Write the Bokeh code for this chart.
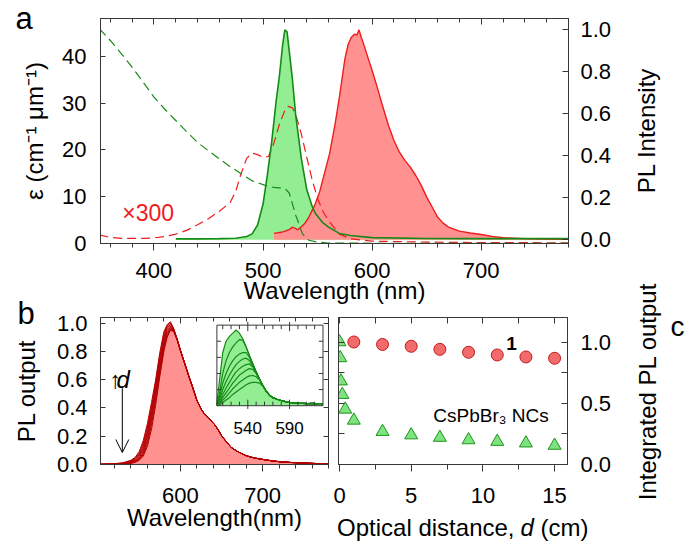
import math
from bokeh.plotting import figure
from bokeh.models import (Range1d, LinearAxis, FixedTicker, Label, Arrow, OpenHead,
                          PrintfTickFormatter)
from bokeh.layouts import column, row
from bokeh.embed import file_html
from bokeh.resources import INLINE
from bokeh.core.properties import value

FONT = "Liberation Sans"
AXC = "#383838"
RED = "#ee1c1c"
GREEN = "#168a16"
DARK_RED = "#b20000"
RED_FILL = "#ff9191"
GREEN_FILL = "#93ee93"

# ---------------- panel a: absorption (left axis) ----------------
a_abs_nc_x = [350, 360, 370, 380, 390, 400, 410, 420, 430, 440, 450, 460, 470, 480, 490, 500,
              505, 510, 515, 520, 524, 527, 530, 532, 536, 542, 550, 560, 600, 700, 780]
a_abs_nc_y = [45.9, 43.4, 40.6, 37.7, 34.5, 31.3, 28.7, 26.3, 23.9, 21.6, 19.8, 18.1, 16.4, 14.9,
              13.4, 12.6, 12.2, 12.0, 11.9, 11.8, 10.8, 8.4, 6.0, 4.8, 2.1, 0.7, 0.3, 0.1, 0.05,
              0.05, 0.05]
a_abs_1_x = [350, 360, 370, 380, 390, 400, 410, 420, 430, 440, 450, 460, 470, 475, 480, 485, 490,
             495, 500, 505, 510, 515, 520, 523, 527, 530, 535, 540, 545, 550, 555, 560, 570, 580,
             600, 650, 700, 780]
a_abs_1_y = [1.8, 1.3, 1.1, 1.1, 1.1, 1.2, 1.5, 2.0, 2.8, 4.0, 5.3, 6.9, 8.8, 11.2, 15.0, 18.2,
             19.3, 19.0, 18.4, 18.6, 21.5, 25.5, 28.5, 29.3, 29.0, 27.5, 23.5, 18.5, 13.6, 9.6,
             6.8, 4.9, 2.0, 1.0, 0.5, 0.3, 0.2, 0.15]
# ---------------- panel a: PL (right axis) ----------------
a_pl_nc_x = [420, 440, 460, 475, 485, 490, 495, 500, 504, 508, 512, 515, 518, 520, 522, 524, 527,
             530, 535, 540, 545, 548, 555, 560, 570, 580, 600, 650, 700, 780]
a_pl_nc_y = [0.004, 0.004, 0.005, 0.007, 0.015, 0.028, 0.07, 0.17, 0.31, 0.47, 0.66, 0.78, 0.93,
             1.0, 0.99, 0.90, 0.76, 0.59, 0.39, 0.24, 0.16, 0.125, 0.08, 0.06, 0.03, 0.02, 0.01,
             0.006, 0.005, 0.005]
a_pl_1_x = [510, 518, 524, 527, 532, 538, 542, 547, 552, 556, 561, 566, 570, 575, 578, 581, 584,
            586, 588, 590, 593, 596, 600, 605, 610, 615, 620, 625, 630, 635, 640, 645, 650, 655,
            660, 665, 670, 680, 690, 700, 710, 720, 740, 760, 780]
a_pl_1_y = [0.03, 0.037, 0.048, 0.06, 0.048, 0.076, 0.108, 0.16, 0.23, 0.31, 0.41, 0.55, 0.68,
            0.86, 0.93, 0.965, 0.98, 0.975, 1.0, 0.965, 0.92, 0.87, 0.806, 0.72, 0.63, 0.544,
            0.473, 0.417, 0.378, 0.346, 0.306, 0.259, 0.203, 0.156, 0.108, 0.079, 0.06, 0.041,
            0.032, 0.025, 0.016, 0.01, 0.005, 0.003, 0.002]
a_x_major = [400, 500, 600, 700]
a_x_minor = [360, 380, 420, 440, 460, 480, 520, 540, 560, 580, 620, 640, 660, 680, 720, 740, 760, 780]
a_left_ticks = [0, 10, 20, 30, 40]
a_right_ticks = [0.0, 0.2, 0.4, 0.6, 0.8, 1.0]

# ---------------- panel b: PL output of 1 at increasing d ----------------
b_edge_x = [503, 520, 530, 540, 545, 550, 555, 560, 565, 570, 575, 580, 584, 588, 592, 596, 600, 605]
b_curves = [
    [0.003, 0.006, 0.012, 0.030, 0.050, 0.090, 0.170, 0.290, 0.440, 0.600, 0.790, 0.940, 0.990, 1.010, 0.960, 0.890, 0.810, 0.720],
    [0.002, 0.005, 0.010, 0.025, 0.043, 0.078, 0.150, 0.265, 0.415, 0.580, 0.765, 0.920, 0.980, 1.000, 0.958, 0.889, 0.810, 0.720],
    [0.002, 0.004, 0.008, 0.021, 0.036, 0.067, 0.130, 0.240, 0.390, 0.555, 0.740, 0.900, 0.970, 0.990, 0.955, 0.888, 0.810, 0.720],
    [0.001, 0.003, 0.007, 0.018, 0.030, 0.057, 0.112, 0.218, 0.365, 0.530, 0.715, 0.880, 0.955, 0.980, 0.952, 0.887, 0.810, 0.720],
    [0.001, 0.002, 0.005, 0.014, 0.025, 0.048, 0.096, 0.195, 0.340, 0.505, 0.690, 0.860, 0.940, 0.970, 0.950, 0.886, 0.810, 0.720],
    [0.001, 0.002, 0.004, 0.012, 0.021, 0.040, 0.082, 0.172, 0.315, 0.480, 0.665, 0.840, 0.925, 0.962, 0.947, 0.885, 0.808, 0.720],
    [0.000, 0.001, 0.003, 0.010, 0.018, 0.034, 0.070, 0.150, 0.285, 0.450, 0.640, 0.820, 0.910, 0.955, 0.944, 0.884, 0.807, 0.720],
    [0.000, 0.001, 0.003, 0.008, 0.015, 0.030, 0.060, 0.130, 0.250, 0.420, 0.620, 0.800, 0.900, 0.950, 0.940, 0.882, 0.806, 0.720],
]
b_tail_x = [610, 615, 620, 626, 630, 634, 638, 642, 646, 650, 656, 662, 670, 680, 690, 700, 710,
            720, 735, 750, 765, 780]
b_tail_y = [0.63, 0.545, 0.455, 0.385, 0.352, 0.333, 0.305, 0.28, 0.245, 0.205, 0.16, 0.12, 0.09,
            0.062, 0.046, 0.036, 0.027, 0.02, 0.014, 0.01, 0.007, 0.005]
b_x_major = [600, 700]
b_x_minor = [520, 540, 560, 580, 620, 640, 660, 680, 720, 740, 760, 780]
b_y_ticks = [0.0, 0.2, 0.4, 0.6, 0.8, 1.0]

# ---------------- panel b inset: PL output of CsPbBr3 NCs ----------------
ins_x = [503, 506, 510, 514, 518, 522, 526, 530, 534, 538, 542, 546, 550, 554, 558]
ins_curves = [
    [0.03, 0.30, 0.66, 0.80, 0.86, 0.90, 0.94, 0.90, 0.83, 0.73, 0.62, 0.52, 0.42, 0.33, 0.25],
    [0.02, 0.15, 0.40, 0.56, 0.66, 0.73, 0.78, 0.82, 0.81, 0.73, 0.62, 0.52, 0.42, 0.33, 0.25],
    [0.01, 0.10, 0.28, 0.40, 0.49, 0.56, 0.61, 0.64, 0.66, 0.66, 0.60, 0.51, 0.42, 0.33, 0.25],
    [0.01, 0.07, 0.20, 0.30, 0.38, 0.45, 0.51, 0.55, 0.58, 0.59, 0.56, 0.50, 0.41, 0.33, 0.25],
    [0.01, 0.05, 0.14, 0.22, 0.29, 0.36, 0.42, 0.46, 0.49, 0.51, 0.52, 0.48, 0.41, 0.33, 0.25],
    [0.00, 0.03, 0.10, 0.16, 0.22, 0.28, 0.33, 0.38, 0.41, 0.44, 0.46, 0.45, 0.40, 0.33, 0.25],
    [0.00, 0.02, 0.07, 0.11, 0.16, 0.21, 0.25, 0.29, 0.32, 0.35, 0.37, 0.375, 0.36, 0.32, 0.25],
    [0.00, 0.01, 0.04, 0.07, 0.10, 0.14, 0.17, 0.20, 0.23, 0.26, 0.28, 0.29, 0.29, 0.28, 0.245],
]
ins_tail_x = [562, 566, 570, 575, 580, 585, 590, 595, 600, 606, 612, 618, 624, 630]
ins_tail_y = [0.18, 0.13, 0.10, 0.08, 0.065, 0.05, 0.04, 0.035, 0.03, 0.03, 0.025, 0.028, 0.024, 0.025]
ins_xlim = [503, 630]
ins_ylim = [0, 1]
ins_x_major = [540, 590]
ins_x_minor = [510, 520, 530, 550, 560, 570, 580, 600, 610, 620]
ins_y_ticks = [0.2, 0.4, 0.6, 0.8]

# ---------------- panel c: integrated PL output vs optical distance ----------------
c_d_1 = [1, 3, 5, 7, 9, 11, 13, 15]
c_pl_1 = [1.0, 0.98, 0.965, 0.94, 0.916, 0.894, 0.878, 0.867]
c_d_nc = [0, 0.05, 0.1, 0.2, 0.4, 1, 3, 5, 7, 9, 11, 13, 15]
c_pl_nc = [1.0, 0.87, 0.68, 0.57, 0.45, 0.36, 0.268, 0.24, 0.22, 0.20, 0.187, 0.174, 0.155]
c_x_major = [0, 5, 10, 15]
c_x_minor = [2.5, 7.5, 12.5]
c_y_major = [0.0, 0.5, 1.0]
c_y_minor = [0.25, 0.75]


def make_fig(w, h, xr, yr, bl, br, bt, bb):
    p = figure(width=w, height=h, x_range=xr, y_range=yr, output_backend="svg",
               toolbar_location=None, min_border_left=bl, min_border_right=br,
               min_border_top=bt, min_border_bottom=bb)
    p.xgrid.visible = False
    p.ygrid.visible = False
    p.outline_line_color = AXC
    p.outline_line_alpha = 1.0
    return p


def style(ax, ticks, minor=(), tin=0, tout=0, mtin=0, mtout=0, show=True, fs="22px", so=10, fmt=None):
    ax.ticker = FixedTicker(ticks=list(ticks), minor_ticks=list(minor))
    ax.major_tick_in = tin
    ax.major_tick_out = tout
    ax.minor_tick_in = mtin
    ax.minor_tick_out = mtout
    ax.axis_line_color = AXC
    ax.major_tick_line_color = AXC
    ax.minor_tick_line_color = AXC
    ax.major_label_text_font = FONT
    ax.major_label_text_color = "black"
    if fmt:
        ax.formatter = PrintfTickFormatter(format=fmt)
    if show:
        ax.major_label_text_font_size = fs
        ax.major_label_standoff = so
    else:
        ax.major_label_overrides = {float(t): "" for t in ticks}
        ax.major_label_text_font_size = "0px"
        ax.major_label_standoff = 0
    ax.axis_label_text_font = FONT
    ax.axis_label_text_font_style = "normal"
    ax.axis_label_text_color = "black"
    ax.axis_label_text_font_size = "24px"


def lab(p, text, x, y, size, units="data", **kw):
    color = kw.pop("color", "black")
    p.add_layout(Label(x=x, y=y, x_units=units, y_units=units, text=text, text_font=FONT,
                       text_font_size=size, text_color=color, **kw))


# ======================= panel a =======================
pa = make_fig(685, 310, Range1d(351, 780), Range1d(0, 48.1), 100, 117, 18, 67)
pa.extra_y_ranges = {"pl": Range1d(-0.018, 1.054)}

ax = pa.yaxis[0]
style(ax, a_left_ticks, tin=5, so=14)
ax.axis_label = "ε (cm⁻¹ μm⁻¹)"
ax.axis_label_standoff = 11
ax = pa.xaxis[0]
style(ax, a_x_major, a_x_minor, tout=7, mtout=4, so=12)
ax.axis_label = "Wavelength (nm)"
ax.axis_label_standoff = -4
top = LinearAxis()
style(top, a_x_major, a_x_minor, tin=6, mtin=4, show=False)
pa.add_layout(top, "above")
right = LinearAxis(y_range_name="pl")
style(right, a_right_ticks, tin=6, so=12, fmt="%.1f")
pa.add_layout(right, "right")

pa.varea(x=a_pl_nc_x, y1=0, y2=a_pl_nc_y, fill_color=GREEN_FILL, y_range_name="pl")
pa.varea(x=a_pl_1_x, y1=0, y2=a_pl_1_y, fill_color=RED_FILL, y_range_name="pl")
pa.line(a_abs_1_x, a_abs_1_y, line_color=RED, line_width=1.2, line_dash="9 5")
pa.line(a_abs_nc_x, a_abs_nc_y, line_color=GREEN, line_width=1.2, line_dash="9 5")
pa.line(a_pl_1_x, a_pl_1_y, line_color=RED, line_width=1.4, y_range_name="pl")
pa.line(a_pl_nc_x, a_pl_nc_y, line_color=GREEN, line_width=1.6, y_range_name="pl")
lab(pa, "×300", 371, 3.7, "23px", color=RED)

# ======================= panel b =======================
pb = make_fig(333, 267, Range1d(503, 780), Range1d(0, 1.04), 100, 5, 34, 86)
ax = pb.yaxis[0]
style(ax, b_y_ticks, tin=5, so=13, fmt="%.1f")
ax.axis_label = "PL output"
ax.axis_label_standoff = 14
ax = pb.xaxis[0]
style(ax, b_x_major, b_x_minor, tout=7, mtout=4, so=16)
ax.axis_label = "Wavelength(nm)"
ax.axis_label_standoff = -2
top = LinearAxis()
style(top, b_x_major, b_x_minor, tin=6, mtin=4, show=False)
pb.add_layout(top, "above")
right = LinearAxis()
style(right, b_y_ticks, tin=5, show=False)
pb.add_layout(right, "right")
pb.border_fill_color = None

pb.varea(x=b_edge_x + b_tail_x, y1=0, y2=b_curves[0] + b_tail_y, fill_color=RED_FILL)
for cv in b_curves:
    pb.line(b_edge_x + b_tail_x, cv + b_tail_y, line_color=DARK_RED, line_width=1.0)

# inset (sub-coordinates inside panel b)
ins = pb.subplot(x_source=Range1d(503, 630), y_source=Range1d(0, 1),
                 x_target=Range1d(644.4, 773.3), y_target=Range1d(0.416, 0.986))
ins.quad(left=[ins_xlim[0]], right=[ins_xlim[1]], bottom=[ins_ylim[0]], top=[ins_ylim[1]],
         fill_color="white", line_color=None)
ins.varea(x=ins_x + ins_tail_x, y1=0, y2=ins_curves[0] + ins_tail_y, fill_color=GREEN_FILL)
for cv in ins_curves:
    ins.line(ins_x + ins_tail_x, cv + ins_tail_y, line_color=GREEN, line_width=1.2)
ins.quad(left=[ins_xlim[0]], right=[ins_xlim[1]], bottom=[ins_ylim[0]], top=[ins_ylim[1]],
         fill_color=None, line_color=AXC, line_width=1)
nmin, nmaj, ny = len(ins_x_minor), len(ins_x_major), len(ins_y_ticks)
ins.segment(x0=ins_x_minor, y0=[0] * nmin, x1=ins_x_minor, y1=[0.05] * nmin, line_color=AXC)
ins.segment(x0=ins_x_minor, y0=[1] * nmin, x1=ins_x_minor, y1=[0.95] * nmin, line_color=AXC)
ins.segment(x0=ins_x_major, y0=[-0.04] * nmaj, x1=ins_x_major, y1=[0.075] * nmaj, line_color=AXC)
ins.segment(x0=ins_x_major, y0=[1.04] * nmaj, x1=ins_x_major, y1=[0.925] * nmaj, line_color=AXC)
ins.segment(x0=[503] * ny, y0=ins_y_ticks, x1=[508] * ny, y1=ins_y_ticks, line_color=AXC)
ins.segment(x0=[630] * ny, y0=ins_y_ticks, x1=[625] * ny, y1=ins_y_ticks, line_color=AXC)
ins.text(x=ins_x_major, y=[-0.28] * nmaj, text=[str(v) for v in ins_x_major],
         text_font=value(FONT), text_font_size="17px", text_align="center",
         text_baseline="middle", text_color="black")

pb.add_layout(Arrow(x_start=529.5, y_start=0.54, x_end=529.5, y_end=0.085,
                    line_color="black", line_width=1,
                    end=OpenHead(size=13, line_width=1, line_color="black")))
lab(pb, "↑", 9, 72, "24px", units="screen", text_font_style="bold")
lab(pb, "d", 16, 72, "24px", units="screen", text_font_style="italic")

# ======================= panel c =======================
pc = make_fig(352, 267, Range1d(-0.07, 15.9), Range1d(0, 1.2), 5, 118, 34, 86)
ax = pc.yaxis[0]
style(ax, c_y_major, c_y_minor, tin=6, mtin=6, show=False)
ax = pc.xaxis[0]
style(ax, c_x_major, c_x_minor, tout=7, mtout=5, so=16)
top = LinearAxis()
style(top, c_x_major, c_x_minor, tin=6, mtin=6, show=False)
pc.add_layout(top, "above")
right = LinearAxis()
style(right, c_y_major, c_y_minor, tin=6, mtin=6, so=13, fmt="%.1f")
pc.add_layout(right, "right")
pc.border_fill_color = None

pc.scatter(c_d_1, c_pl_1, marker="circle", size=12, fill_color="#f26b6b",
           line_color="#c41a1a", line_width=1)
pc.scatter(c_d_nc, c_pl_nc, marker="triangle", size=13, fill_color="#7ee27e",
           line_color="#1c961c", line_width=1)
lab(pc, "1", 12, 0.99, "19px", text_font_style="bold", text_align="center",
    text_baseline="middle")
lab(pc, "CsPbBr₃ NCs", 6.54, 0.318, "19px")

# ======================= overlay for texts outside the plot frames =======================
ov = figure(width=685, height=550, x_range=Range1d(0, 685), y_range=Range1d(0, 550),
            output_backend="svg", toolbar_location=None, x_axis_location=None,
            y_axis_location=None, min_border_left=0, min_border_right=0, min_border_top=0,
            min_border_bottom=0)
ov.grid.visible = False
ov.outline_line_color = None
ov.background_fill_color = None
ov.border_fill_color = None
lab(ov, "a", 15, 515, "31px")
lab(ov, "b", 17, 220, "31px")
lab(ov, "c", 670, 209, "28px")
lab(ov, "PL Intensity", 646, 420, "24px", angle=math.pi / 2, text_align="center",
    text_baseline="middle")
lab(ov, "Integrated PL output", 647, 159, "24px", angle=math.pi / 2, text_align="center",
    text_baseline="middle")
lab(ov, "Optical distance,", 514, 10, "24px", text_align="right")
lab(ov, "d", 520, 10, "24px", text_font_style="italic")
lab(ov, "(cm)", 540, 10, "24px")

r = row(pb, pc)
r.margin = (-27, 0, 0, 0)
ovw = row(ov)
ovw.margin = (-550, 0, 0, 0)
layout = column(pa, r, ovw)

open("out.html", "w").write(file_html(layout, INLINE, title="PL figure"))
